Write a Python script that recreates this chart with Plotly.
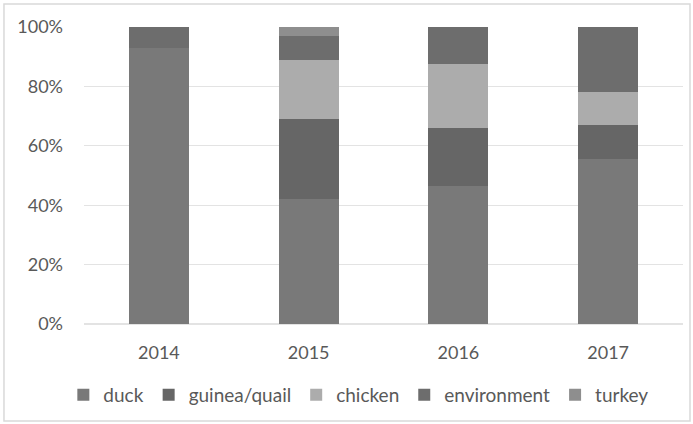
import plotly.graph_objects as go

years = ["2014", "2015", "2016", "2017"]
duck = [93, 42, 46.5, 55.5]
guinea_quail = [None, 27, 19.5, 11.5]
chicken = [None, 20, 21.5, 11]
environment = [7, 8, 12.5, 22]
turkey = [None, 3, None, None]

series = [
    ("duck", duck, "#797979"),
    ("guinea/quail", guinea_quail, "#666666"),
    ("chicken", chicken, "#acacac"),
    ("environment", environment, "#6d6d6d"),
    ("turkey", turkey, "#8e8e8e"),
]

fig = go.Figure()
for name, vals, col in series:
    fig.add_trace(go.Bar(
        x=years, y=vals, name=name,
        marker=dict(color=col, line=dict(width=0)),
    ))

FONT = "Lato"
fig.update_layout(
    width=693, height=424,
    barmode="stack", bargap=0.6,
    paper_bgcolor="white", plot_bgcolor="white",
    margin=dict(l=84, r=10, t=27, b=100),
    font=dict(family=FONT, size=18, color="#595959"),
    showlegend=True,
    legend=dict(orientation="h", x=0.458, xanchor="center", y=-0.239, yanchor="middle",
                itemwidth=30, font=dict(family=FONT, size=19, color="#595959"),
                traceorder="normal", itemclick=False),
    xaxis=dict(showgrid=False, showline=False, ticks="", tickfont=dict(size=18),
               ticklabelstandoff=16),
    yaxis=dict(range=[0, 100], dtick=20, ticksuffix="%", showgrid=True,
               gridcolor="#e3e3e3", gridwidth=1, zeroline=True, zerolinecolor="#e3e3e3",
               showline=False, ticks="", tickfont=dict(size=18), ticklabelstandoff=20),
    shapes=[dict(type="rect", xref="paper", yref="paper",
                 x0=-0.1336, x1=1.0117, y0=-0.3266, y1=1.0774,
                 line=dict(color="#d9d9d9", width=1.5), fillcolor="rgba(0,0,0,0)",
                 layer="below")],
)

fig.write_html("out.html", config={"displayModeBar": False},
               post_script="document.body.style.margin='0';document.body.style.padding='0';")
